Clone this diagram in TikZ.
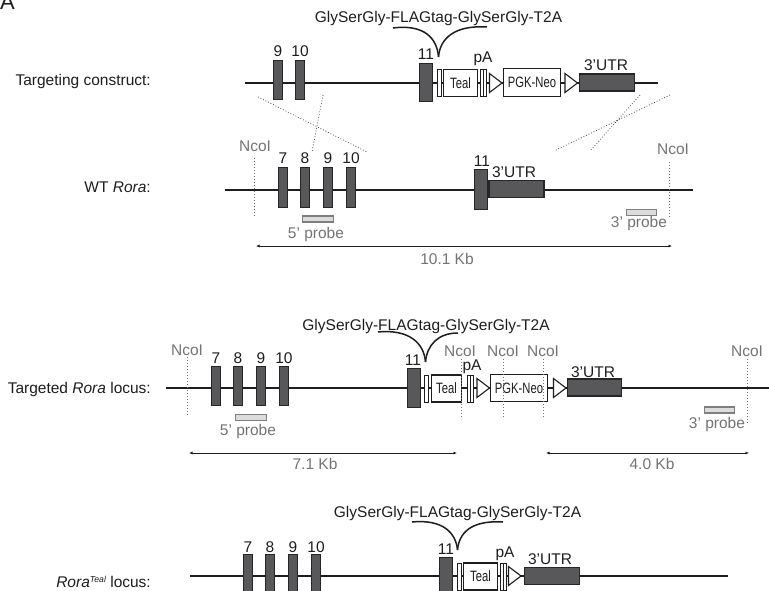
\documentclass[tikz,border=0pt]{standalone}
\usepackage{fontspec}
\setmainfont{Liberation Sans}
\usetikzlibrary{arrows.meta}
\definecolor{exfill}{HTML}{58585A}
\definecolor{exline}{HTML}{262626}
\definecolor{txtgray}{HTML}{747474}
\definecolor{probefill}{HTML}{DCDCDC}
\definecolor{probeline}{HTML}{7F7F7F}
\definecolor{ink}{HTML}{1E1E1E}
\newcommand{\boxtext}[1]{\scalebox{0.75}[1]{\fontsize{15}{17}\selectfont #1}}
\tikzset{
  every node/.style={font=\fontsize{15.5}{18}\selectfont, text=ink},
  lbl/.style={anchor=base, inner sep=0pt},
  glbl/.style={anchor=base, inner sep=0pt, text=txtgray},
  rowlbl/.style={anchor=base east, inner sep=0pt},
  backbone/.style={draw=ink, line width=1.5pt},
  exon/.style={draw=exline, fill=exfill, line width=1.3pt, inner sep=0pt, minimum width=9pt, minimum height=39pt},
  utr/.style={draw=exline, fill=exfill, line width=1.3pt, inner sep=0pt, minimum height=17pt},
  wbox/.style={draw=ink, fill=white, line width=1.1pt, inner sep=0pt, minimum height=27pt},
  thinbox/.style={draw=ink, fill=white, line width=0.9pt, inner sep=0pt, minimum width=3pt, minimum height=27pt},
  probe/.style={draw=probeline, fill=probefill, line width=1.1pt, inner sep=0pt, minimum height=6pt},
  ncoline/.style={draw=txtgray, line width=1pt, dotted},
  crossline/.style={draw=ink!80, line width=0.8pt, dotted},
  arcline/.style={draw=ink, line width=1.5pt},
  dimline/.style={draw=ink, line width=0.8pt, {Latex[length=3.5pt,width=3pt]}-{Latex[length=3.5pt,width=3pt]}},
  loxp/.pic={\draw[line width=1.1pt, draw=ink, fill=white, line join=miter] (0,-9.5) -- (12.5,0) -- (0,9.5) -- cycle;}
}
\begin{document}
\begin{tikzpicture}[x=1pt,y=-1pt]
\clip (0,0) rectangle (769,591);
\fill[white] (0,0) rectangle (769,591);
\node[anchor=base west, inner sep=0pt, font=\fontsize{22}{24}\selectfont] (panel) at (0,10) {A};

% ---------------- Row 1: targeting construct
\node[rowlbl] (lab1) at (151,86) {Targeting construct:};
\coordinate (b1s) at (245,83);
\coordinate (b1e) at (658,83);
\draw[backbone] (b1s) -- (b1e);
\node[exon] (r1e9) at (278,80) {};
\node[exon] (r1e10) at (300,80) {};
\node[lbl] (r1n9) at (278,57) {9};
\node[lbl] (r1n10) at (300,57) {10};
\node[exon, minimum width=13pt, minimum height=38pt] (r1e11) at (426,82.5) {};
\node[lbl] (r1n11) at (426,60) {11};
\node[thinbox, minimum width=4pt] (r1t) at (439.5,83) {};
\node[wbox, minimum width=34pt] (r1teal) at (460.5,83) {\boxtext{Teal}};
\node[thinbox] (r1p1) at (481.5,83) {};
\node[thinbox] (r1p2) at (484.5,83) {};
\node[lbl] (r1pA) at (483,63) {pA};
\pic (r1lox1) at (489.5,83) {loxp};
\node[wbox, minimum width=57pt, minimum height=28pt] (r1pgk) at (532,82.5) {\boxtext{PGK-Neo}};
\pic (r1lox2) at (565,83) {loxp};
\node[utr, minimum width=55pt] (r1utr) at (607,82.5) {};
\node[lbl] (r1utrl) at (606,71) {3’UTR};
\node[lbl] (r1title) at (438.5,23) {GlySerGly-FLAGtag-GlySerGly-T2A};
\coordinate (r1aL) at (393,28);
\coordinate (r1aR) at (487,27);
\coordinate (r1tip) at (438.5,57);
\draw[arcline] (r1aL) .. controls (424,24) and (437,38) .. (r1tip);
\draw[arcline] (r1aR) .. controls (455,25) and (440,38) .. (r1tip);

% crossing lines
\coordinate (x1a) at (258,97);  \coordinate (x1b) at (367,152);
\coordinate (x2a) at (323,95);  \coordinate (x2b) at (312,152);
\coordinate (x3a) at (670,95);  \coordinate (x3b) at (556,150);
\coordinate (x4a) at (640,95);  \coordinate (x4b) at (590,151);
\draw[crossline] (x1a) -- (x1b);
\draw[crossline] (x2a) -- (x2b);
\draw[crossline] (x3a) -- (x3b);
\draw[crossline] (x4a) -- (x4b);

% ---------------- Row 2: WT Rora
\node[rowlbl] (lab2) at (151,193) {WT \textit{Rora}:};
\coordinate (b2s) at (225,190);
\coordinate (b2e) at (693,190);
\draw[backbone] (b2s) -- (b2e);
\node[exon, minimum height=40pt] (r2e7) at (283,187.5) {};
\node[exon, minimum height=40pt] (r2e8) at (305,187.5) {};
\node[exon, minimum height=40pt] (r2e9) at (328,187.5) {};
\node[exon, minimum height=40pt] (r2e10) at (351,187.5) {};
\node[lbl] (r2n7) at (283,164) {7};
\node[lbl] (r2n8) at (305,164) {8};
\node[lbl] (r2n9) at (328,164) {9};
\node[lbl] (r2n10) at (351,164) {10};
\node[exon, minimum width=13pt, minimum height=40pt] (r2e11) at (481,189.5) {};
\node[lbl] (r2n11) at (482,167) {11};
\node[utr, minimum width=55pt] (r2utr) at (516.5,189) {};
\node[lbl] (r2utrl) at (514,178) {3’UTR};
\coordinate (r2c1a) at (254,158); \coordinate (r2c1b) at (254,217);
\draw[ncoline] (r2c1a) -- (r2c1b);
\node[glbl] (r2nco1) at (255,152) {NcoI};
\coordinate (r2c2a) at (669,162); \coordinate (r2c2b) at (669,219);
\draw[ncoline] (r2c2a) -- (r2c2b);
\node[glbl] (r2nco2) at (673,155) {NcoI};
\node[probe, minimum width=31pt] (r2p5) at (318,219) {};
\node[glbl] (r2p5l) at (316,239) {5’ probe};
\node[probe, minimum width=30pt] (r2p3) at (641.5,212.5) {};
\node[glbl] (r2p3l) at (639,227) {3’ probe};
\coordinate (r2d1) at (256,246); \coordinate (r2d2) at (672,246);
\draw[dimline] (r2d1) -- (r2d2);
\node[glbl] (r2kb) at (447,264) {10.1 Kb};

% ---------------- Row 3: Targeted Rora locus
\node[rowlbl] (lab3) at (151,393) {Targeted \textit{Rora} locus:};
\coordinate (b3s) at (166,388);
\coordinate (b3e) at (769,388);
\draw[backbone] (b3s) -- (b3e);
\node[exon] (r3e7) at (216,386) {};
\node[exon] (r3e8) at (238,386) {};
\node[exon] (r3e9) at (261,386) {};
\node[exon] (r3e10) at (284,386) {};
\node[lbl] (r3n7) at (216,363) {7};
\node[lbl] (r3n8) at (238,363) {8};
\node[lbl] (r3n9) at (261,363) {9};
\node[lbl] (r3n10) at (284,363) {10};
\node[exon, minimum width=13pt] (r3e11) at (414,388) {};
\node[lbl] (r3n11) at (413,365) {11};
\node[thinbox, minimum width=4pt] (r3t) at (426.5,388.5) {};
\node[wbox, minimum width=30pt] (r3teal) at (446.5,388.5) {\boxtext{Teal}};
\node[thinbox] (r3p1) at (468.75,388.5) {};
\node[thinbox] (r3p2) at (472.25,388.5) {};
\node[lbl] (r3pA) at (472,370) {pA};
\pic (r3lox1) at (477,388) {loxp};
\node[wbox, minimum width=57pt] (r3pgk) at (519,388) {\boxtext{PGK-Neo}};
\pic (r3lox2) at (553.5,388) {loxp};
\node[utr, minimum width=54pt] (r3utr) at (594.5,387.5) {};
\node[lbl] (r3utrl) at (593,377) {3’UTR};
\node[lbl] (r3title) at (426,330) {GlySerGly-FLAGtag-GlySerGly-T2A};
\coordinate (r3aL) at (378,332);
\coordinate (r3aR) at (458,333);
\coordinate (r3tip) at (425.5,362);
\draw[arcline] (r3aL) .. controls (409,329) and (424,343) .. (r3tip);
\draw[arcline] (r3aR) .. controls (438,333) and (427,345) .. (r3tip);
\coordinate (r3c1a) at (187,357); \coordinate (r3c1b) at (187,415);
\coordinate (r3c2a) at (461,359); \coordinate (r3c2b) at (461,418);
\coordinate (r3c3a) at (503,359); \coordinate (r3c3b) at (503,418);
\coordinate (r3c4a) at (543,359); \coordinate (r3c4b) at (543,418);
\coordinate (r3c5a) at (747,359); \coordinate (r3c5b) at (747,425);
\draw[ncoline] (r3c1a) -- (r3c1b);
\draw[ncoline] (r3c2a) -- (r3c2b);
\draw[ncoline] (r3c3a) -- (r3c3b);
\draw[ncoline] (r3c4a) -- (r3c4b);
\draw[ncoline] (r3c5a) -- (r3c5b);
\node[glbl] (r3nco1) at (187,355) {NcoI};
\node[glbl] (r3nco2) at (460,356) {NcoI};
\node[glbl] (r3nco3) at (503,356) {NcoI};
\node[glbl] (r3nco4) at (543,356) {NcoI};
\node[glbl] (r3nco5) at (747,356) {NcoI};
\node[probe, minimum width=31pt] (r3p5) at (251,417.5) {};
\node[glbl] (r3p5l) at (248,435) {5’ probe};
\node[probe, minimum width=30pt] (r3p3) at (719.5,410) {};
\node[glbl] (r3p3l) at (717,428) {3’ probe};
\coordinate (r3d1) at (189,453); \coordinate (r3d2) at (457,453);
\draw[dimline] (r3d1) -- (r3d2);
\node[glbl] (r3kb1) at (315,469) {7.1 Kb};
\coordinate (r3d3) at (546,453); \coordinate (r3d4) at (749,453);
\draw[dimline] (r3d3) -- (r3d4);
\node[glbl] (r3kb2) at (652,469) {4.0 Kb};

% ---------------- Row 4: Rora Teal locus
\node[rowlbl] (lab4) at (151,587) {\textit{Rora}\raisebox{5pt}{\fontsize{8.7}{10}\selectfont\itshape Teal} locus:};
\coordinate (b4s) at (190,576);
\coordinate (b4e) at (728,576);
\draw[backbone] (b4s) -- (b4e);
\node[exon] (r4e7) at (248,574) {};
\node[exon] (r4e8) at (270,574) {};
\node[exon] (r4e9) at (293,574) {};
\node[exon] (r4e10) at (316,574) {};
\node[lbl] (r4n7) at (248,552) {7};
\node[lbl] (r4n8) at (270,552) {8};
\node[lbl] (r4n9) at (293,552) {9};
\node[lbl] (r4n10) at (316,552) {10};
\node[exon, minimum width=13pt] (r4e11) at (446,577) {};
\node[lbl] (r4n11) at (446,554) {11};
\node[thinbox, minimum width=4pt] (r4t) at (459.5,576.5) {};
\node[wbox, minimum width=34pt] (r4teal) at (480.5,576.5) {\boxtext{Teal}};
\node[thinbox] (r4p1) at (501.5,576.5) {};
\node[thinbox] (r4p2) at (504.5,576.5) {};
\node[lbl] (r4pA) at (505,557) {pA};
\pic (r4lox1) at (508.5,576) {loxp};
\node[utr, minimum width=55pt] (r4utr) at (552,576) {};
\node[lbl] (r4utrl) at (550,564) {3’UTR};
\node[lbl] (r4title) at (457.5,517) {GlySerGly-FLAGtag-GlySerGly-T2A};
\coordinate (r4aL) at (412,522);
\coordinate (r4aR) at (503,522);
\coordinate (r4tip) at (457.5,550);
\draw[arcline] (r4aL) .. controls (443,519) and (456,533) .. (r4tip);
\draw[arcline] (r4aR) .. controls (471,520) and (459,533) .. (r4tip);
\end{tikzpicture}
\end{document}
